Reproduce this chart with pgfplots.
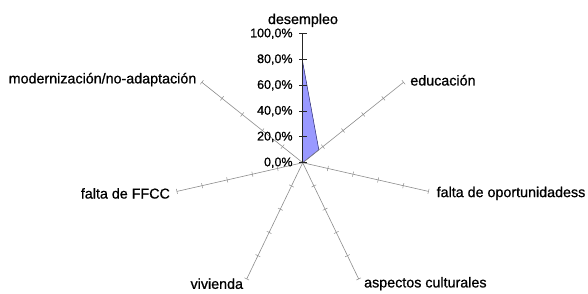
\documentclass[border=0pt]{standalone}
\usepackage{pgfplots}
\pgfplotsset{compat=1.18}
\usepackage{fontspec}
\setmainfont{Liberation Sans}[FakeBold=0.8]
\definecolor{spoke}{RGB}{140,140,140}
\definecolor{radfill}{RGB}{153,153,255}
\definecolor{radedge}{RGB}{40,40,110}
\begin{document}
\begin{tikzpicture}
\useasboundingbox (-302.7pt,-130.3pt) rectangle (285.3pt,162.7pt);
\begin{axis}[
  at={(0,0)}, anchor=center,
  x=1.29pt, y=1.29pt,
  xmin=-100, xmax=100, ymin=-100, ymax=100,
  hide axis, clip=false,
]
% data (filled radar)
\addplot[data cs=polar, fill=radfill, draw=radedge, line width=0.5pt]
  coordinates {(90,78) (38.571,16) (-12.857,0) (-64.286,0) (-115.714,0) (-167.143,0) (-218.571,0)} -- cycle;
% spokes
\addplot[data cs=polar, spoke, line width=0.6pt, mark=|, mark size=2.6pt, mark indices={2,3,4,5,6}, mark options={rotate=38.571, spoke, line width=0.5pt}]
  coordinates {(38.571,0) (38.571,20) (38.571,40) (38.571,60) (38.571,80) (38.571,100)};
\addplot[data cs=polar, spoke, line width=0.6pt, mark=|, mark size=2.6pt, mark indices={2,3,4,5,6}, mark options={rotate=-12.857, spoke, line width=0.5pt}]
  coordinates {(-12.857,0) (-12.857,20) (-12.857,40) (-12.857,60) (-12.857,80) (-12.857,100)};
\addplot[data cs=polar, spoke, line width=0.6pt, mark=|, mark size=2.6pt, mark indices={2,3,4,5,6}, mark options={rotate=-64.286, spoke, line width=0.5pt}]
  coordinates {(-64.286,0) (-64.286,20) (-64.286,40) (-64.286,60) (-64.286,80) (-64.286,100)};
\addplot[data cs=polar, spoke, line width=0.6pt, mark=|, mark size=2.6pt, mark indices={2,3,4,5,6}, mark options={rotate=-115.714, spoke, line width=0.5pt}]
  coordinates {(-115.714,0) (-115.714,20) (-115.714,40) (-115.714,60) (-115.714,80) (-115.714,100)};
\addplot[data cs=polar, spoke, line width=0.6pt, mark=|, mark size=2.6pt, mark indices={2,3,4,5,6}, mark options={rotate=-167.143, spoke, line width=0.5pt}]
  coordinates {(-167.143,0) (-167.143,20) (-167.143,40) (-167.143,60) (-167.143,80) (-167.143,100)};
\addplot[data cs=polar, spoke, line width=0.6pt, mark=|, mark size=2.6pt, mark indices={2,3,4,5,6}, mark options={rotate=-218.571, spoke, line width=0.5pt}]
  coordinates {(-218.571,0) (-218.571,20) (-218.571,40) (-218.571,60) (-218.571,80) (-218.571,100)};
% value axis (desempleo)
\addplot[black!85, line width=1.1pt, mark=-, mark size=4pt, mark options={black!85, line width=1pt}]
  coordinates {(0,0) (0,20) (0,40) (0,60) (0,80) (0,100)};
% tick labels
\foreach \v/\t in {0/{0,0\%},20/{20,0\%},40/{40,0\%},60/{60,0\%},80/{80,0\%},100/{100,0\%}}{
  \edef\temp{\noexpand\node[anchor=east, inner sep=0pt, font=\noexpand\fontsize{12.5}{14}\noexpand\selectfont] at (axis cs:-7.7,\v) {\t};}
  \temp
}
% category labels
\begin{scope}[every node/.style={font=\fontsize{14.3}{16}\selectfont, inner sep=0pt}]
\node[anchor=base] at (axis cs:0.2,107.5) {desempleo};
\node[anchor=west] at (axis cs:83.3,63.9) {educación};
\node[anchor=west] at (axis cs:103.7,-23.8) {falta de oportunidadess};
\node[anchor=west] at (axis cs:47.5,-93.8) {aspectos culturales};
\node[anchor=east] at (axis cs:-46.1,-93.8) {vivienda};
\node[anchor=east] at (axis cs:-102.8,-23.8) {falta de FFCC};
\node[anchor=east] at (axis cs:-82.3,64.4) {modernización/no-adaptación};
\end{scope}
\end{axis}
\end{tikzpicture}
\end{document}
